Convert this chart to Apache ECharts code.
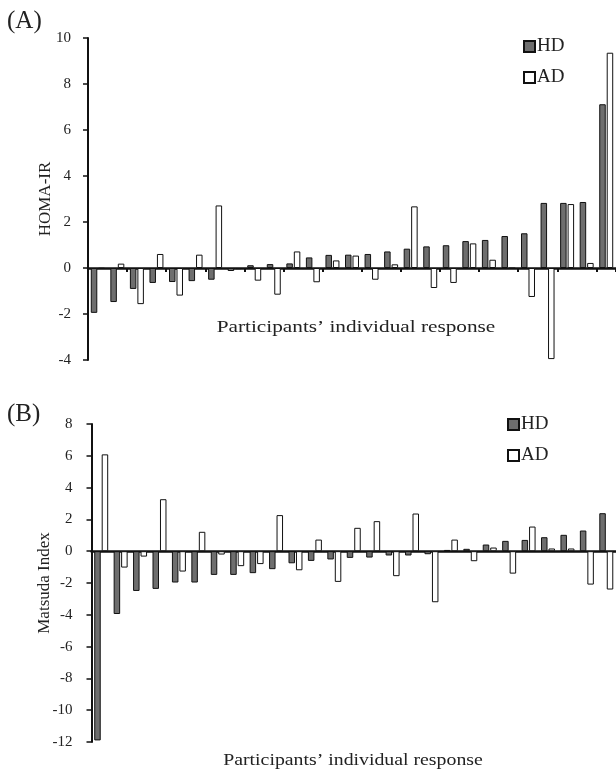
<!DOCTYPE html>
<html>
<head>
<meta charset="utf-8">
<script src="https://cdn.jsdelivr.net/npm/echarts@6/dist/echarts.min.js"></script>
<style>
html,body{margin:0;padding:0;background:#fff;}
#c{width:616px;height:769px;}
</style>
</head>
<body>
<div id="c"></div>
<script>
var participants = [];
for (var i = 1; i <= 27; i++) participants.push('P' + i);

var hdHoma = [-1.95, -1.48, -0.91, -0.65, -0.61, -0.57, -0.51, -0.13, 0.12, 0.17, 0.2, 0.46, 0.57, 0.58, 0.61, 0.72, 0.84, 0.94, 0.99, 1.17, 1.22, 1.39, 1.51, 2.83, 2.83, 2.87, 7.12];
var adHoma = [-0.03, 0.19, -1.57, 0.61, -1.2, 0.58, 2.72, -0.05, -0.55, -1.16, 0.72, -0.62, 0.33, 0.54, -0.51, 0.16, 2.68, -0.87, -0.65, 1.07, 0.36, -0.02, -1.26, -3.96, 2.78, 0.22, 9.36];

var hdMatsuda = [-11.9, -3.95, -2.5, -2.37, -1.97, -1.97, -1.49, -1.49, -1.38, -1.13, -0.76, -0.61, -0.52, -0.42, -0.4, -0.27, -0.27, -0.19, 0.08, 0.15, 0.42, 0.65, 0.71, 0.88, 1.03, 1.3, 2.39];
var adMatsuda = [6.09, -1.03, -0.34, 3.27, -1.28, 1.22, -0.21, -0.94, -0.81, 2.27, -1.2, 0.73, -1.93, 1.47, 1.89, -1.57, 2.37, -3.21, 0.73, -0.63, 0.23, -1.41, 1.55, 0.17, 0.17, -2.1, -2.41];

var yTicksHoma = [-4, 10, 2];
var yTicksMatsuda = [-12, 8, 2];

var serif = 'Liberation Serif';
var chart = echarts.init(document.getElementById('c'));

function xAxisCfg(gi, ticks) {
  return {
    type: 'category', gridIndex: gi, data: participants,
    axisLine: {onZero: true, lineStyle: {color: '#111', width: 2.5}},
    axisTick: {show: ticks, length: 4, lineStyle: {color: '#111', width: 2}},
    axisLabel: {show: false},
    splitLine: {show: false}
  };
}
function yAxisCfg(gi, t, name, gap, margin) {
  return {
    type: 'value', gridIndex: gi, min: t[0], max: t[1], interval: t[2],
    name: name, nameLocation: 'middle', nameGap: gap, nameMoveOverlap: false,
    nameTextStyle: {fontFamily: serif, fontSize: 17, color: '#222'},
    axisLine: {show: true, lineStyle: {color: '#111', width: 2}},
    axisTick: {show: true, length: 5, lineStyle: {color: '#111', width: 1.5}},
    axisLabel: {fontFamily: serif, fontSize: 15, color: '#222', margin: margin},
    splitLine: {show: false}
  };
}
function barSeries(name, xi, data, fill) {
  return {
    type: 'bar', name: name, xAxisIndex: xi, yAxisIndex: xi, data: data,
    barWidth: 6.5, barGap: '15%',
    itemStyle: {color: fill, borderColor: '#111', borderWidth: 1},
    emphasis: {disabled: true}
  };
}
function legendCfg(left, top) {
  return {data: ['HD', 'AD'], left: left, top: top, orient: 'vertical', itemWidth: 11, itemHeight: 11, itemGap: 12,
    icon: 'rect', textStyle: {fontFamily: serif, fontSize: 19, color: '#222', padding: [0, 0, 0, -3]}};
}

chart.setOption({
  animation: false,
  backgroundColor: '#fff',
  grid: [
    {left: 88, top: 38, width: 528, height: 322},
    {left: 91.5, top: 424, width: 528, height: 318}
  ],
  legend: [legendCfg(518, 32), legendCfg(502, 410)],
  xAxis: [xAxisCfg(0, true), xAxisCfg(1, false)],
  yAxis: [
    yAxisCfg(0, yTicksHoma, 'HOMA-IR', 34, 17),
    yAxisCfg(1, yTicksMatsuda, 'Matsuda Index', 38, 19)
  ],
  series: [
    barSeries('HD', 0, hdHoma, '#6e6e6e'),
    barSeries('AD', 0, adHoma, '#ffffff'),
    barSeries('HD', 1, hdMatsuda, '#6e6e6e'),
    barSeries('AD', 1, adMatsuda, '#ffffff')
  ],
  graphic: [
    {type: 'text', left: 7, top: 9, style: {text: '(A)', font: '25px "Liberation Serif"', fill: '#222'}},
    {type: 'text', left: 7, top: 402, style: {text: '(B)', font: '25px "Liberation Serif"', fill: '#222'}},
    {type: 'text', x: 356, y: 328, scaleX: 1.25, style: {text: 'Participants\u2019 individual response', font: '17px "Liberation Serif"', fill: '#222', align: 'center', verticalAlign: 'middle'}},
    {type: 'text', x: 353, y: 761, scaleX: 1.2, style: {text: 'Participants\u2019 individual response', font: '16.5px "Liberation Serif"', fill: '#222', align: 'center', verticalAlign: 'middle'}}
  ]
});
</script>
</body>
</html>
